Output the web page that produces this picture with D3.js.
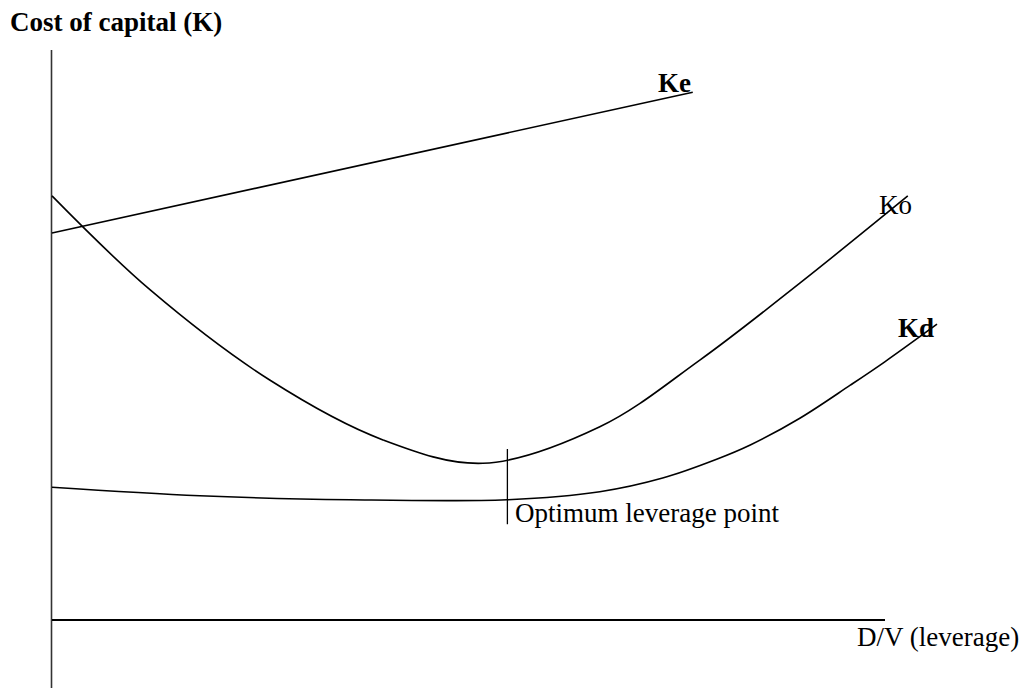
<!DOCTYPE html>
<html>
<head>
<meta charset="utf-8">
<script src="https://d3js.org/d3.v7.min.js"></script>
<style>
  body { margin: 0; background: #fff; }
  svg text { font-family: "Liberation Serif", "Times New Roman", serif; fill: #000; }
</style>
</head>
<body>
<div id="chart"></div>
<script>
// --- data (x = leverage D/V, 0..100; y = cost of capital, 0..100) ---
const keX = [0, 72.4];
const keY = [67.9, 92.6];

const koX = [0, 11.1, 24.6, 37.4, 48.7, 61.9, 73.2, 84.5, 96.7];
const koY = [74.4, 57.9, 42.1, 31.6, 27.5, 33.9, 45.6, 59.1, 74.4];

const kdX = [0, 16.7, 33.7, 51.4, 61.9, 69, 75.1, 78.9, 84.5, 90.2, 94.1, 100];
const kdY = [23.3, 21.8, 21.1, 21.1, 22.5, 24.9, 28.2, 30.7, 35.4, 41.2, 45.3, 51.9];

const optimumX = 51.4;
const optimumY = [16.8, 30];

const curveLabels = ["Ke", "Ko", "Kd"];
const yTitle = "Cost of capital (K)";
const xTitle = "D/V (leverage)";
const optimumLabel = "Optimum leverage point";

(function() {
  const width = 1024, height = 688;

  const svg = d3.select("#chart").append("svg")
    .attr("width", width)
    .attr("height", height);

  const x = d3.scaleLinear().domain([0, 100]).range([52, 937]);
  const y = d3.scaleLinear().domain([0, 100]).range([620, 50]);

  const line = d3.line()
    .x(d => x(d[0]))
    .y(d => y(d[1]))
    .curve(d3.curveCatmullRom.alpha(0.5));

  // titles
  svg.append("text")
    .attr("x", 10).attr("y", 31)
    .attr("font-size", 27).attr("font-weight", "bold")
    .text(yTitle);

  svg.append("text")
    .attr("x", 857).attr("y", 646)
    .attr("font-size", 27)
    .text(xTitle);

  // curve labels (lines are drawn over them)
  const labelPos = [
    { x: 658, y: 92, bold: true },
    { x: 879, y: 214, bold: false },
    { x: 898, y: 337, bold: true }
  ];
  svg.selectAll(".clabel")
    .data(curveLabels)
    .enter().append("text")
    .attr("class", "clabel")
    .attr("x", (d, i) => labelPos[i].x)
    .attr("y", (d, i) => labelPos[i].y)
    .attr("font-size", 27)
    .attr("font-weight", (d, i) => labelPos[i].bold ? "bold" : "normal")
    .text(d => d);

  svg.append("text")
    .attr("x", 515).attr("y", 522)
    .attr("font-size", 27)
    .text(optimumLabel);

  // axes
  svg.append("line")
    .attr("x1", 51.5).attr("x2", 51.5)
    .attr("y1", 50).attr("y2", height)
    .attr("stroke", "#333").attr("stroke-width", 1.6);

  svg.append("line")
    .attr("x1", x(0)).attr("x2", 885)
    .attr("y1", y(0)).attr("y2", y(0))
    .attr("stroke", "#000").attr("stroke-width", 2);

  // curves
  const series = [
    d3.zip(keX, keY),
    d3.zip(koX, koY),
    d3.zip(kdX, kdY)
  ];
  svg.selectAll(".curve")
    .data(series)
    .enter().append("path")
    .attr("class", "curve")
    .attr("d", line)
    .attr("fill", "none")
    .attr("stroke", "#000")
    .attr("stroke-width", 1.6);

  // optimum marker
  svg.append("line")
    .attr("x1", x(optimumX) + 0.5).attr("x2", x(optimumX) + 0.5)
    .attr("y1", y(optimumY[1])).attr("y2", y(optimumY[0]))
    .attr("stroke", "#000").attr("stroke-width", 1.3);
})();
</script>
</body>
</html>
